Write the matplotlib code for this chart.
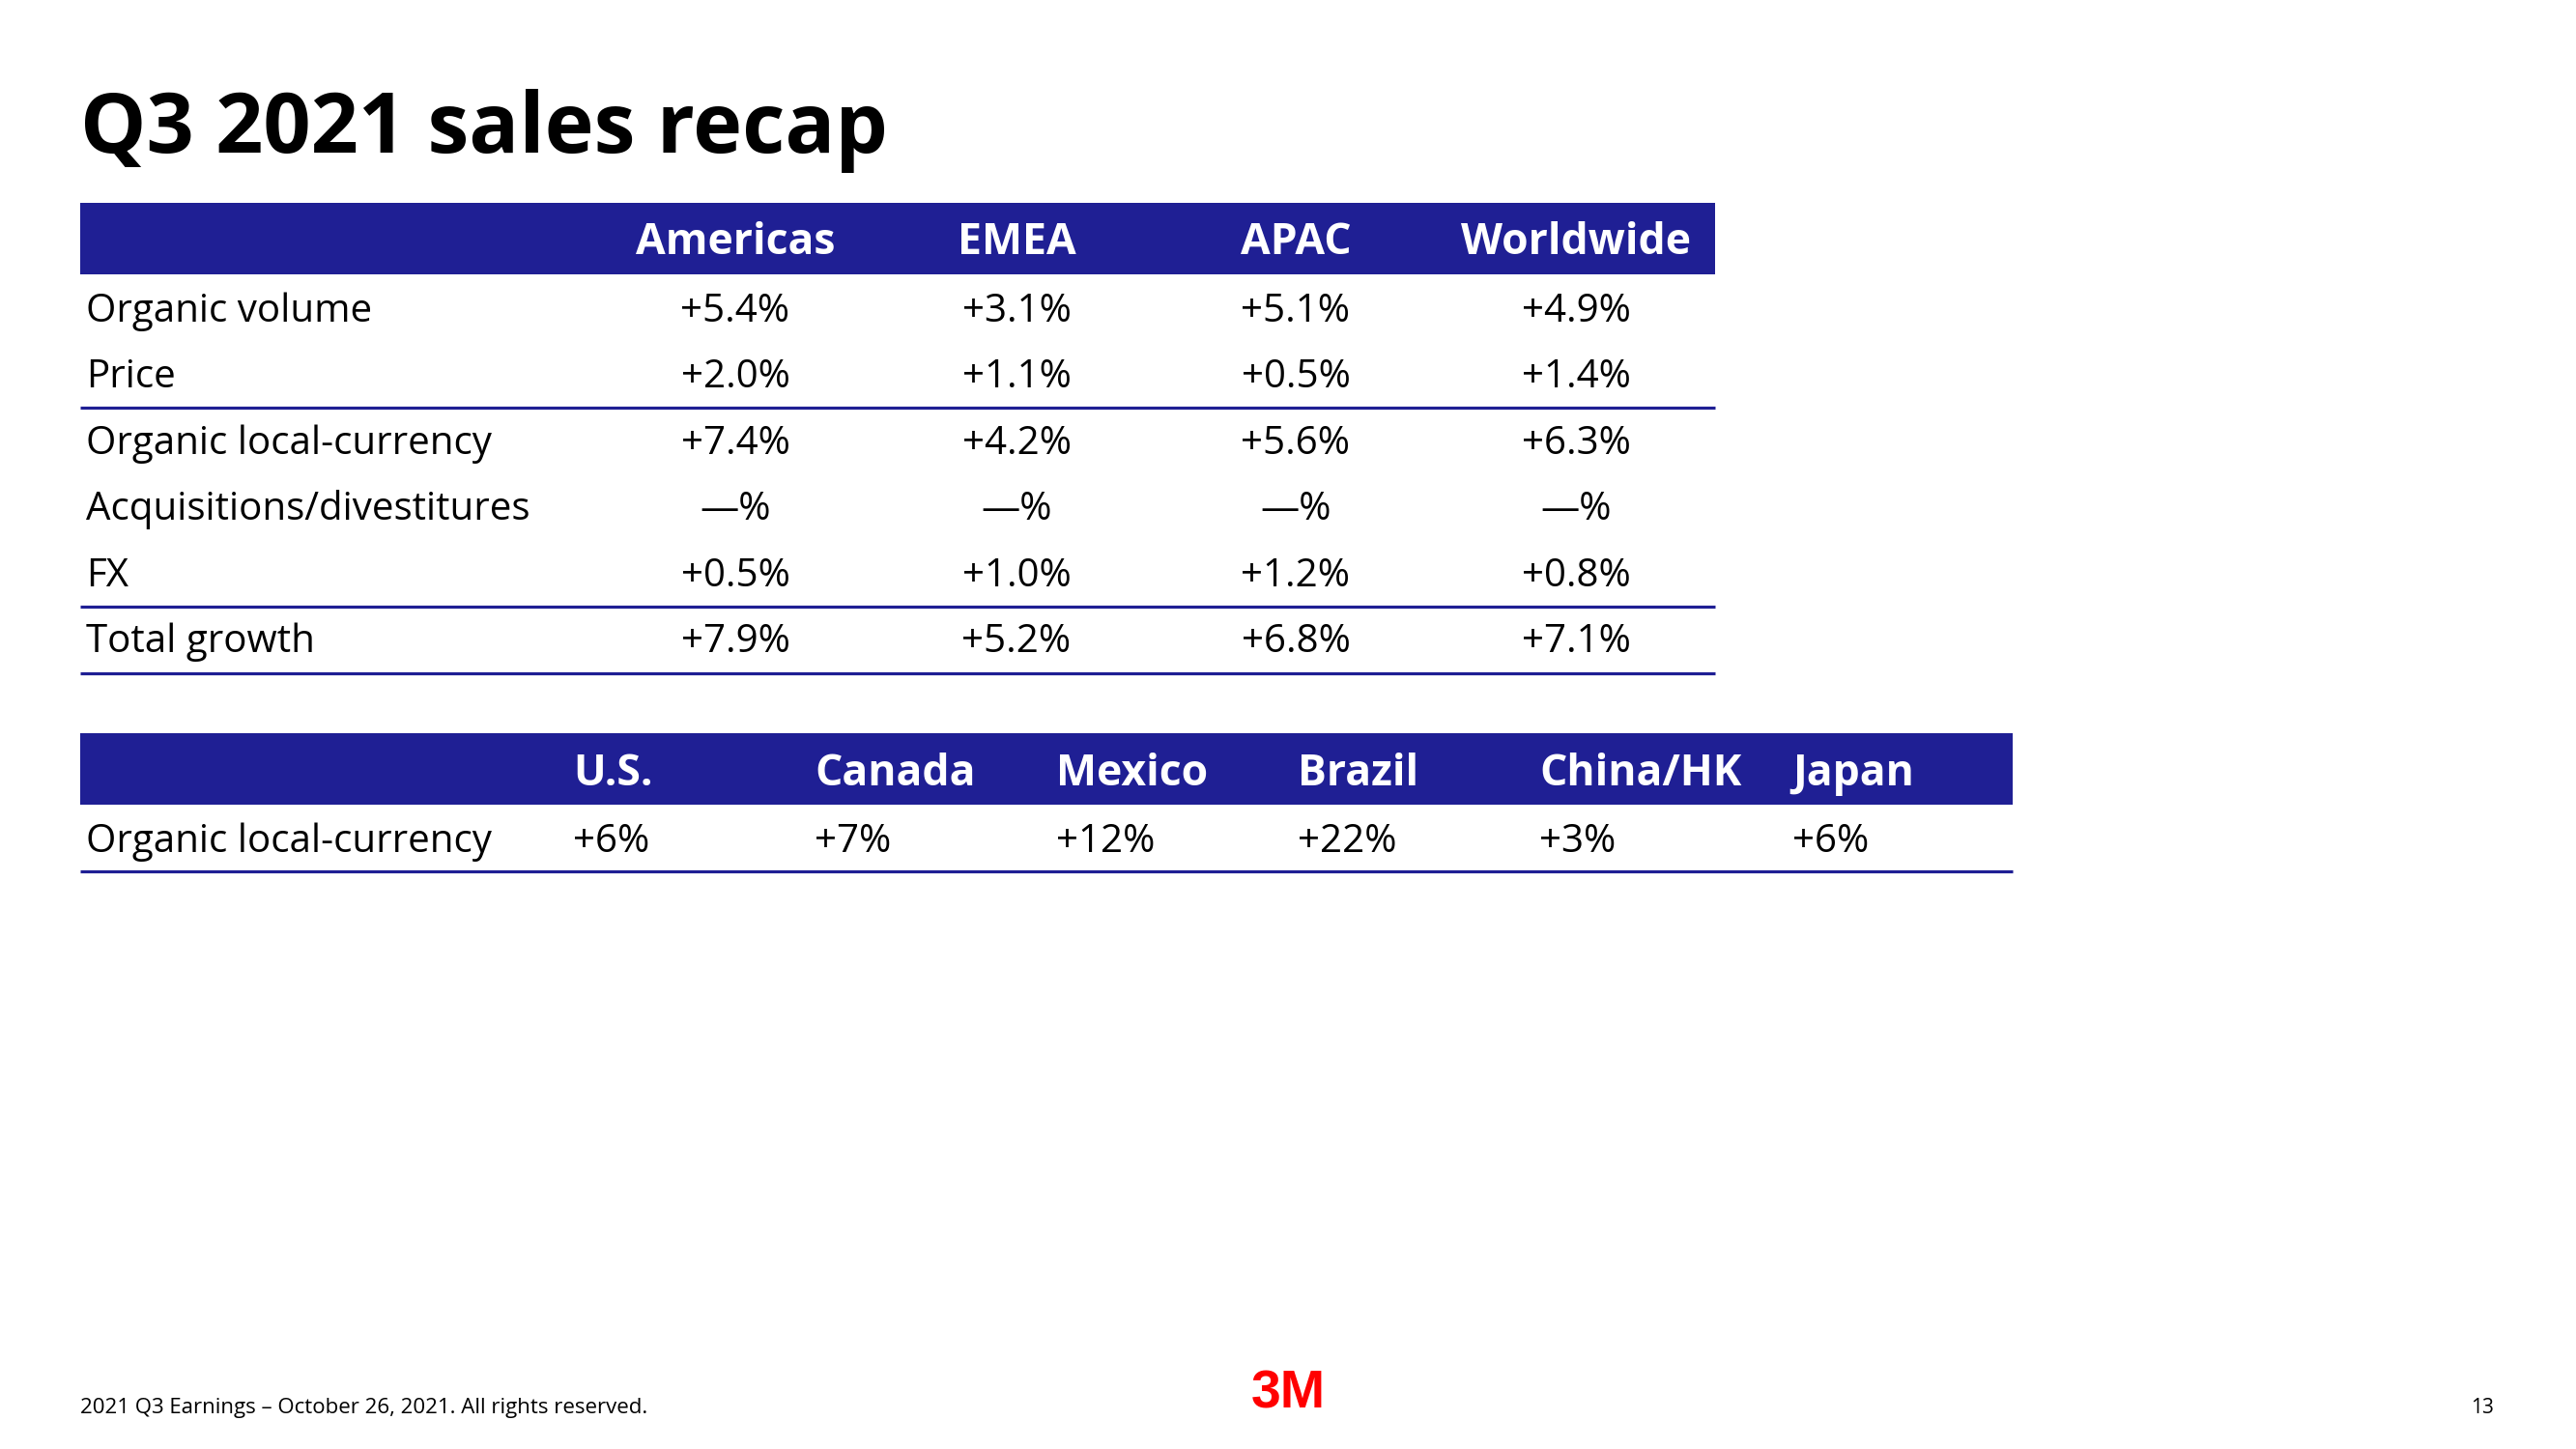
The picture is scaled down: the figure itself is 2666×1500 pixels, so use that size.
import matplotlib
matplotlib.use("Agg")
import matplotlib.pyplot as plt
from matplotlib.patches import Rectangle

plt.rcParams["font.family"] = ["Open Sans", "DejaVu Sans"]

# ---- data ----
regions = ["Americas", "EMEA", "APAC", "Worldwide"]
row_labels = ["Organic volume", "Price", "Organic local-currency",
              "Acquisitions/divestitures", "FX", "Total growth"]
organic_volume = [5.4, 3.1, 5.1, 4.9]
price = [2.0, 1.1, 0.5, 1.4]
organic_lc = [7.4, 4.2, 5.6, 6.3]
acq_div = [0.0, 0.0, 0.0, 0.0]
fx = [0.5, 1.0, 1.2, 0.8]
total_growth = [7.9, 5.2, 6.8, 7.1]

countries = ["U.S.", "Canada", "Mexico", "Brazil", "China/HK", "Japan"]
country_olc = [6, 7, 12, 22, 3, 6]

NAVY = "#1f1f94"
W, H = 2666, 1500
BODY = 29

def pct(v, nd=1):
    if v == 0:
        return "\u2014%"
    return f"+{v:.{nd}f}%"

fig = plt.figure(figsize=(W / 100, H / 100), dpi=100)
ax = fig.add_axes([0, 0, 1, 1])
ax.set_xlim(0, W); ax.set_ylim(H, 0); ax.axis("off")

# title
ax.text(83, 158, "Q3 2021 sales recap", fontsize=62, fontweight="bold",
        color="black", va="baseline", ha="left")

# ---- top table ----
left, right = 83, 1775
ax.add_patch(Rectangle((left, 210), right - left, 74, color=NAVY, lw=0))
col_x = [761, 1052, 1341, 1631]
for x, r in zip(col_x, regions):
    ax.text(x, 263, r, color="white", fontsize=32, fontweight="bold",
            ha="center", va="baseline")

rows = [organic_volume, price, organic_lc, acq_div, fx, total_growth]
base0, step = 333, 68.4
for i, (lab, vals) in enumerate(zip(row_labels, rows)):
    yb = base0 + i * step
    ax.text(89, yb, lab, fontsize=BODY, ha="left", va="baseline")
    for x, v in zip(col_x, vals):
        ax.text(x, yb, pct(v), fontsize=BODY, ha="center", va="baseline")

for y in (422, 628, 697):
    ax.plot([left, right], [y, y], color=NAVY, lw=2.3, solid_capstyle="butt")

# ---- country table ----
left2, right2 = 83, 2083
ax.add_patch(Rectangle((left2, 759), right2 - left2, 74, color=NAVY, lw=0))
cx = [593, 843, 1093, 1343, 1593, 1855]
for x, c, v in zip(cx, countries, country_olc):
    ax.text(x, 813, c, color="white", fontsize=32, fontweight="bold",
            ha="left", va="baseline")
    ax.text(x, 882, pct(v, 0), fontsize=BODY, ha="left", va="baseline")
ax.text(89, 882, "Organic local-currency", fontsize=BODY, ha="left", va="baseline")
ax.plot([left2, right2], [902, 902], color=NAVY, lw=2.3, solid_capstyle="butt")

# ---- footer ----
ax.text(83, 1463, "2021 Q3 Earnings \u2013 October 26, 2021. All rights reserved.",
        fontsize=16, ha="left", va="baseline")
ax.text(1333, 1457, "3M", fontsize=40, fontweight="heavy", color="#ff0000",
        family=["Liberation Sans", "DejaVu Sans"], ha="center", va="baseline")
ax.text(2581, 1463, "13", fontsize=15, ha="right", va="baseline")

fig.savefig("out.png", dpi=100)
